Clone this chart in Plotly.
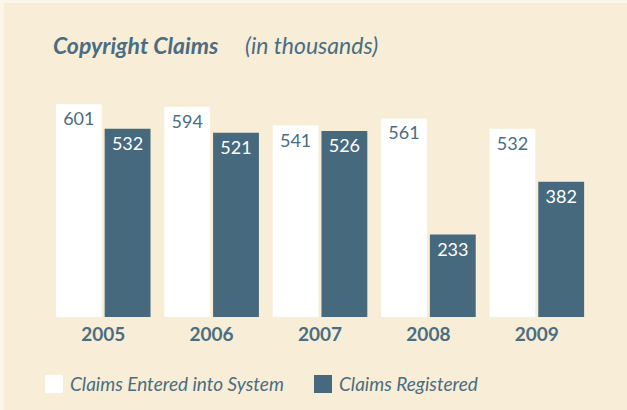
import plotly.graph_objects as go

years = ['2005', '2006', '2007', '2008', '2009']
entered = [601, 594, 541, 561, 532]
registered = [532, 521, 526, 233, 382]
series_names = ['Claims Entered into System', 'Claims Registered']

BG = '#f8edd6'
SLATE = '#46697e'
TEXT = '#4a6d82'
FONT = 'Lato'

fig = go.Figure()
fig.add_trace(go.Bar(
    x=years, y=entered, name=series_names[0],
    marker=dict(color='#ffffff', line=dict(width=0)),
    text=entered, textposition='inside', insidetextanchor='end',
    textfont=dict(family=FONT, size=18, color=TEXT),
    constraintext='none',
))
fig.add_trace(go.Bar(
    x=years, y=registered, name=series_names[1],
    marker=dict(color=SLATE, line=dict(width=0)),
    text=registered, textposition='inside', insidetextanchor='end',
    textfont=dict(family=FONT, size=18, color='#ffffff'),
    constraintext='none',
))

fig.update_layout(
    width=627, height=410,
    margin=dict(l=49, r=36, t=87, b=93),
    paper_bgcolor=BG, plot_bgcolor=BG,
    barmode='group', bargap=0.1, bargroupgap=0.06,
    showlegend=False,
    font=dict(family=FONT, color=TEXT),
)
fig.update_yaxes(range=[0, 650], visible=False, showgrid=False)
fig.update_xaxes(showgrid=False, showline=False, ticks='', zeroline=False,
                 tickfont=dict(family=FONT, size=19, color=TEXT, weight='bold'),
                 ticklabelstandoff=4)

W, H = 542, 230

def px_x(p):
    return (p - 49) / W

def px_y(p):
    return (317 - p) / H

# title
fig.add_annotation(text='<b><i>Copyright Claims</i></b>', xref='paper', yref='paper',
                   x=px_x(51), y=px_y(45), xanchor='left', yanchor='middle',
                   showarrow=False, font=dict(family=FONT, size=23, color=TEXT))
fig.add_annotation(text='<i>(in thousands)</i>', xref='paper', yref='paper',
                   x=px_x(243), y=px_y(45), xanchor='left', yanchor='middle',
                   showarrow=False, font=dict(family=FONT, size=23, color=TEXT))

# custom legend
legend_items = [(series_names[0], '#ffffff', 45, 68), (series_names[1], SLATE, 314, 337)]
for name, col, sx, tx in legend_items:
    fig.add_shape(type='rect', xref='paper', yref='paper',
                  x0=px_x(sx), x1=px_x(sx + 18), y0=px_y(375), y1=px_y(393),
                  fillcolor=col, line=dict(width=0))
    fig.add_annotation(text='<i>' + name + '</i>', xref='paper', yref='paper',
                       x=px_x(tx), y=px_y(384), xanchor='left', yanchor='middle',
                       showarrow=False, font=dict(family=FONT, size=19, color=TEXT))

# light edge strips
fig.add_shape(type='rect', xref='paper', yref='paper', layer='below',
              x0=px_x(0), x1=px_x(4), y0=px_y(410), y1=px_y(0),
              fillcolor='#fbf5ea', line=dict(width=0))
fig.add_shape(type='rect', xref='paper', yref='paper', layer='below',
              x0=px_x(0), x1=px_x(627), y0=px_y(3), y1=px_y(0),
              fillcolor='#fbf5ea', line=dict(width=0))

fig.write_html('out.html', config={'displayModeBar': False},
               post_script="document.body.style.margin='0';")
